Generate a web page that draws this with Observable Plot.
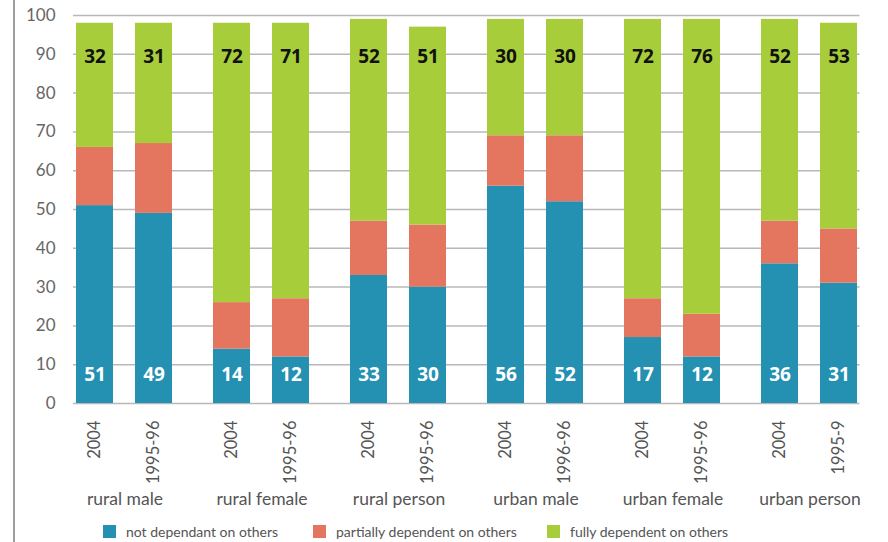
<!DOCTYPE html>
<html>
<head>
<meta charset="utf-8">
<script src="https://cdn.jsdelivr.net/npm/d3@7"></script>
<script src="https://cdn.jsdelivr.net/npm/@observablehq/plot@0.6"></script>
<style>
  html, body { margin: 0; padding: 0; background: #fff; }
  #wrap { position: relative; width: 888px; height: 542px; overflow: hidden; }
  #border { position: absolute; left: 13px; top: 0; width: 2px; height: 542px; background: #9d9d9d; }
  #legend { position: absolute; left: 0; top: 523px; width: 888px; height: 16px;
            font-family: Lato, "Open Sans", sans-serif; font-size: 14px; color: #555; }
  .item { position: absolute; top: 0; display: flex; align-items: center; white-space: nowrap; }
  #item0 { left: 103px; } #item1 { left: 313px; } #item2 { left: 547px; }
  .sw { width: 13px; height: 13px; margin-right: 10px; }
</style>
</head>
<body>
<div id="wrap">
  <div id="chart"></div>
  <div id="border"></div>
  <div id="legend"></div>
</div>
<script>
const groups = ["rural male", "rural female", "rural person", "urban male", "urban female", "urban person"];
const yearLabels = ["2004", "1995-96", "2004", "1995-96", "2004", "1995-96", "2004", "1996-96", "2004", "1995-96", "2004", "1995-9"];
const categories = ["not dependant on others", "partially dependent on others", "fully dependent on others"];
const colors = ["#2490b2", "#e4765f", "#a8cd3a"];
const notDependent = [51, 49, 14, 12, 33, 30, 56, 52, 17, 12, 36, 31];
const partiallyDependent = [15, 18, 12, 15, 14, 16, 13, 17, 10, 11, 11, 14];
const fullyDependent = [32, 31, 72, 71, 52, 51, 30, 30, 72, 76, 52, 53];
const yTicks = [0, 10, 20, 30, 40, 50, 60, 70, 80, 90, 100];

const series = [notDependent, partiallyDependent, fullyDependent];
const rows = groups.flatMap((g, i) => [0, 1].map(j => ({g, slot: j, k: 2 * i + j, year: yearLabels[2 * i + j]})));
const stackData = categories.flatMap((c, ci) => rows.map(r => ({...r, cat: c, value: series[ci][r.k]})));
const blueLabels = rows.map(r => ({...r, value: notDependent[r.k]}));
const greenLabels = rows.map(r => ({...r, value: fullyDependent[r.k]}));
const gridData = groups.flatMap((g, i) => yTicks.map(t => ({g, i, t})));

const gridStyle = {stroke: "#b8b8b8", strokeWidth: 1.5};

const chart = Plot.plot({
  width: 888,
  height: 512,
  marginLeft: 56,
  marginRight: 9.5,
  marginTop: 15,
  marginBottom: 109,
  style: {fontFamily: "Lato, 'Open Sans', sans-serif", background: "transparent"},
  fx: {domain: groups, paddingInner: 0, paddingOuter: 0, label: null},
  x: {type: "band", domain: [0, 1], paddingInner: 0.367, paddingOuter: 0.326, axis: null},
  y: {domain: [0, 100], label: null},
  color: {domain: categories, range: colors},
  marks: [
    Plot.ruleY(gridData.filter(d => d.i === 0), {fx: "g", y: "t", ...gridStyle, insetLeft: 17}),
    Plot.ruleY(gridData.filter(d => d.i > 0 && d.i < 5), {fx: "g", y: "t", ...gridStyle}),
    Plot.ruleY(gridData.filter(d => d.i === 5), {fx: "g", y: "t", ...gridStyle, insetRight: 18.5}),
    Plot.barY(stackData, {fx: "g", x: "slot", y: "value", fill: "cat", order: categories}),
    Plot.text(blueLabels, {fx: "g", x: "slot", text: d => String(d.value), frameAnchor: "bottom", dy: -23,
      fill: "white", fontSize: 19, fontWeight: "bold", fontFamily: "'Open Sans', sans-serif"}),
    Plot.text(greenLabels, {fx: "g", x: "slot", text: d => String(d.value), frameAnchor: "top", dy: 33.5,
      fill: "#111", fontSize: 19, fontWeight: "bold", fontFamily: "'Open Sans', sans-serif"}),
    Plot.text(rows, {fx: "g", x: "slot", text: "year", frameAnchor: "bottom", dy: 17, rotate: -90,
      textAnchor: "end", lineAnchor: "middle", fill: "#555", fontSize: 16.5}),
    Plot.axisY({ticks: yTicks, tickSize: 0, tickPadding: 1, fontSize: 17, fill: "#666", label: null}),
    Plot.axisFx({anchor: "bottom", tickSize: 0, tickPadding: 89, fontSize: 17.5, fill: "#555", label: null})
  ]
});
document.getElementById("chart").appendChild(chart);

const legend = document.getElementById("legend");
categories.forEach((c, i) => {
  const item = document.createElement("div");
  item.className = "item";
  item.id = "item" + i;
  const sw = document.createElement("div");
  sw.className = "sw";
  sw.style.background = colors[i];
  const label = document.createElement("span");
  label.textContent = c;
  item.appendChild(sw);
  item.appendChild(label);
  legend.appendChild(item);
});
</script>
</body>
</html>
